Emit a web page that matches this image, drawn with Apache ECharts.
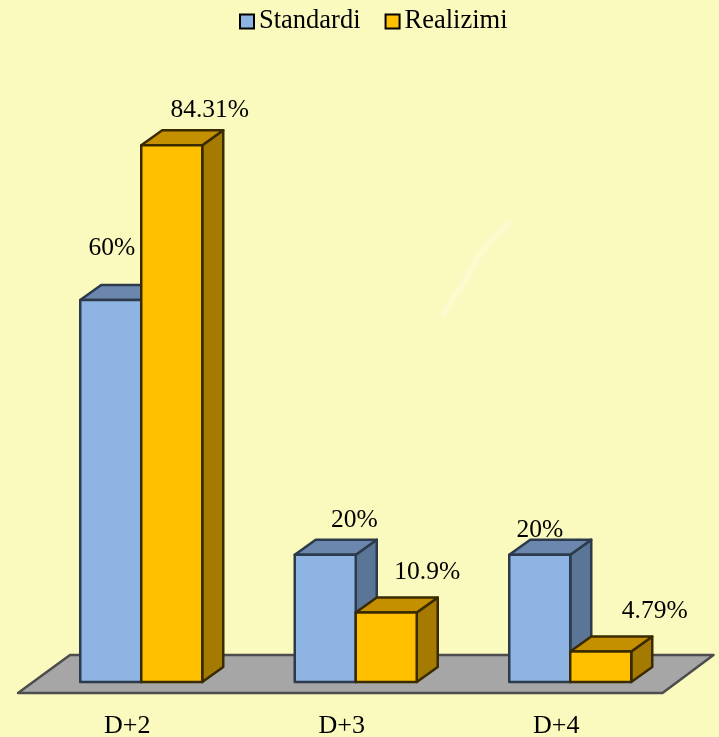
<!DOCTYPE html>
<html>
<head>
<meta charset="utf-8">
<style>
  html, body { margin: 0; padding: 0; background: #faf9be; }
  #main { width: 719px; height: 737px; }
</style>
<script src="https://cdn.jsdelivr.net/npm/echarts@6/dist/echarts.min.js"></script>
</head>
<body>
<div id="main"></div>
<script>
var categories = ["D+2", "D+3", "D+4"];
var standardi = [60, 20, 20];
var realizimi = [84.31, 10.9, 4.79];

// hand placed labels in the original, offset from the middle of each bar top
var standardiLabelShift = [[1, -52], [29, -34], [0, -24]];
var realizimiLabelShift = [[38, -35], [41, -40], [54, -40]];

var fontFamily = "'Liberation Serif', 'Times New Roman', serif";
var depthX = 21;
var depthY = -15;
var barShare = 0.2844;

var myChart = echarts.init(document.getElementById("main"));

function barRenderer(colors, side, labelShift) {
  return function (params, api) {
    var i = api.value(0);
    var top = api.coord([i, api.value(1)]);
    var base = api.coord([i, 0]);
    var w = api.size([1, 0])[0] * barShare;
    // front face sits half a depth right of the category centre
    var x0 = top[0] + 14 + (side === 0 ? -w : 0);
    var x1 = x0 + w;
    var y0 = top[1];
    var y1 = base[1];
    var line = { stroke: colors.line, lineWidth: 2.5, lineJoin: "round" };
    return {
      type: "group",
      children: [
        {
          type: "polygon",
          shape: { points: [[x1, y0], [x1 + depthX, y0 + depthY], [x1 + depthX, y1 + depthY], [x1, y1]] },
          style: Object.assign({ fill: colors.side }, line),
        },
        {
          type: "polygon",
          shape: { points: [[x0, y0], [x0 + depthX, y0 + depthY], [x1 + depthX, y0 + depthY], [x1, y0]] },
          style: Object.assign({ fill: colors.top }, line),
        },
        {
          type: "rect",
          shape: { x: x0, y: y0, width: w, height: y1 - y0 },
          style: Object.assign({ fill: colors.front }, line),
        },
        {
          type: "text",
          z2: 10,
          silent: true,
          style: {
            x: (x0 + x1) / 2 + labelShift[i][0],
            y: y0 + labelShift[i][1],
            text: api.value(1) + "%",
            fill: "#000",
            font: "25.5px " + fontFamily,
            align: "center",
            verticalAlign: "middle",
          },
        },
      ],
    };
  };
}

function floorRenderer(params) {
  var g = params.coordSys;
  var left = g.x;
  var right = g.x + g.width;
  var base = g.y + g.height;
  return {
    type: "polygon",
    shape: {
      points: [
        [left - 2, base + 11],
        [left + 50, base - 27],
        [right + 50, base - 27],
        [right - 1, base + 11],
      ],
    },
    style: { fill: "#a6a6a6", stroke: "#4d4d4d", lineWidth: 2.5, lineJoin: "round" },
  };
}

var blueColors = { front: "#8db4e2", top: "#6b87ad", side: "#5b7596", line: "#2c3a4c" };
var yellowColors = { front: "#ffc000", top: "#c49000", side: "#a47a00", line: "#3a2a00" };

myChart.setOption({
  backgroundColor: "#faf9be",
  animation: false,
  textStyle: { fontFamily: fontFamily },
  legend: {
    top: 8,
    left: 239,
    padding: 0,
    itemWidth: 14,
    itemHeight: 14,
    itemGap: 24,
    icon: "rect",
    selectedMode: false,
    textStyle: { fontSize: 26.5, fontFamily: fontFamily, color: "#000" },
    data: [
      { name: "Standardi", itemStyle: { color: blueColors.front, borderColor: "#000", borderWidth: 2 } },
      { name: "Realizimi", itemStyle: { color: yellowColors.front, borderColor: "#000", borderWidth: 2 } },
    ],
  },
  grid: { left: 20, width: 643.5, top: 109, bottom: 55, outerBoundsMode: "none" },
  xAxis: {
    type: "category",
    data: categories,
    axisLine: { show: false },
    axisTick: { show: false },
    axisLabel: { fontSize: 26, fontFamily: fontFamily, color: "#000", margin: 31 },
  },
  yAxis: {
    type: "value",
    min: 0,
    max: 90,
    show: false,
    splitLine: { show: false },
  },
  graphic: [
    {
      // faint pale smudge in the plot background
      type: "polyline",
      silent: true,
      z: -1,
      shape: { points: [[442, 316], [462, 285], [478, 258], [497, 234], [512, 222]], smooth: 0.4 },
      style: { stroke: "rgba(255,255,240,0.3)", lineWidth: 6, fill: null, shadowBlur: 14, shadowColor: "rgba(255,255,240,0.5)" },
    },
  ],
  series: [
    {
      name: "floor",
      type: "custom",
      silent: true,
      z: 1,
      data: [[0, 0]],
      encode: { x: 0, y: 1 },
      renderItem: floorRenderer,
    },
    {
      name: "Standardi",
      type: "custom",
      z: 2,
      itemStyle: { color: blueColors.front },
      data: standardi.map(function (v, i) { return [i, v]; }),
      encode: { x: 0, y: 1 },
      renderItem: barRenderer(blueColors, 0, standardiLabelShift),
    },
    {
      name: "Realizimi",
      type: "custom",
      z: 3,
      itemStyle: { color: yellowColors.front },
      data: realizimi.map(function (v, i) { return [i, v]; }),
      encode: { x: 0, y: 1 },
      renderItem: barRenderer(yellowColors, 1, realizimiLabelShift),
    },
  ],
});
</script>
</body>
</html>
